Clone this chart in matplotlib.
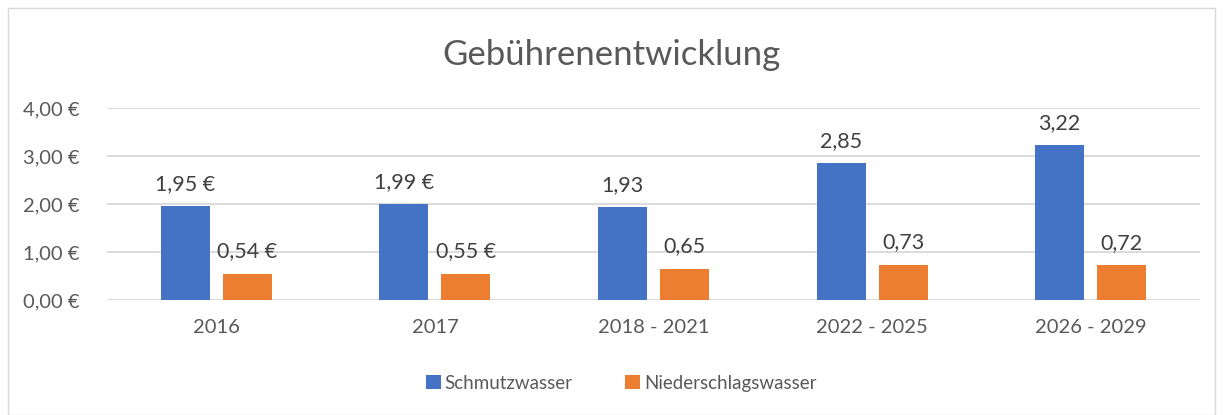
import numpy as np
import matplotlib.pyplot as plt
from matplotlib.patches import Rectangle

plt.rcParams['font.family'] = ['Lato', 'DejaVu Sans']

categories = ["2016", "2017", "2018 - 2021", "2022 - 2025", "2026 - 2029"]
schmutz = [1.95, 1.99, 1.93, 2.85, 3.22]
niederschlag = [0.54, 0.55, 0.65, 0.73, 0.72]
schmutz_labels = ["1,95 €", "1,99 €", "1,93", "2,85", "3,22"]
nieder_labels = ["0,54 €", "0,55 €", "0,65", "0,73", "0,72"]
yticks = [0, 1, 2, 3, 4]
ytick_labels = ["0,00 €", "1,00 €", "2,00 €", "3,00 €", "4,00 €"]

blue = '#4472C4'
orange = '#ED7D31'
text_col = '#595959'

fig = plt.figure(figsize=(12.23, 4.15), dpi=100)
ax = fig.add_axes([107 / 1223, 1 - 300 / 415, 1093 / 1223, 192 / 415])

x = np.arange(len(categories))
w = 0.224
off = 0.142
b1 = ax.bar(x - off, schmutz, w, color=blue, label='Schmutzwasser', zorder=3)
b2 = ax.bar(x + off, niederschlag, w, color=orange, label='Niederschlagswasser', zorder=3)

for bars, labels in ((b1, schmutz_labels), (b2, nieder_labels)):
    for bar, lab in zip(bars, labels):
        ax.annotate(lab, (bar.get_x() + bar.get_width() / 2, bar.get_height()),
                    xytext=(0, 9), textcoords='offset points',
                    ha='center', va='bottom', fontsize=15.5, color='#404040')

ax.set_xlim(-0.5, len(categories) - 0.5)
ax.set_ylim(0, 4)
ax.set_yticks(yticks)
ax.set_yticklabels(ytick_labels)
ax.set_xticks(x)
ax.set_xticklabels(categories)
ax.tick_params(axis='both', length=0, labelsize=14.5, colors=text_col)
ax.tick_params(axis='y', pad=20)
ax.tick_params(axis='x', pad=14)
ax.grid(axis='y', color='#D9D9D9', linewidth=1.3, zorder=0)
for s in ax.spines.values():
    s.set_visible(False)

fig.text(0.5, 1 - 55 / 415, 'Gebührenentwicklung', ha='center', va='center',
         fontsize=25, color=text_col)

fig.legend(loc='center', bbox_to_anchor=(0.508, 1 - 383 / 415), ncol=2, frameon=False,
           fontsize=13.5, labelcolor=text_col, handlelength=0.8, handleheight=0.8,
           handletextpad=0.2, columnspacing=2.8)

fig.patches.append(Rectangle((8 / 1223, 0.0), 1 - 16 / 1223, 1 - 8 / 415,
                             transform=fig.transFigure, fill=False,
                             edgecolor='#D9D9D9', linewidth=1))

fig.savefig('out.png', dpi=100)
